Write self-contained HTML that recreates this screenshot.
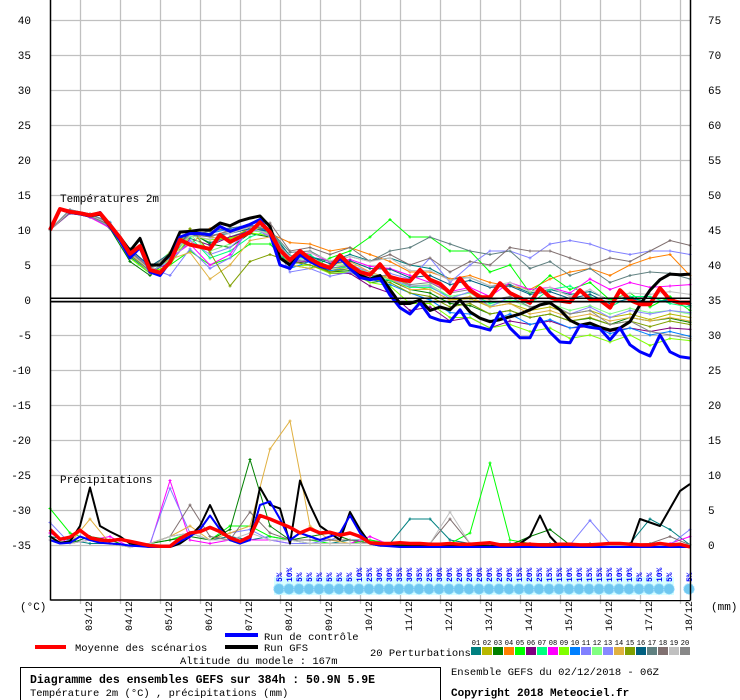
<!DOCTYPE html>
<html><head><meta charset="utf-8"><style>
body{margin:0;background:#fff;width:740px;height:700px;overflow:hidden}
svg{display:block}
text{font-family:"Liberation Mono","DejaVu Sans Mono",monospace}
</style></head><body>
<svg id="chart" width="740" height="700" viewBox="0 0 740 700" xmlns="http://www.w3.org/2000/svg">
<g id="grid"></g>
<g id="snow"></g>
<g id="series"></g>
<g id="axes"></g>
<text x="60" y="202" font-size="11">Températures 2m</text>
<text x="60" y="483" font-size="11">Précipitations</text>
<text x="20" y="610" font-size="11">(°C)</text>
<text x="711" y="610" font-size="11">(mm)</text>
<g>
<rect x="35" y="645" width="31" height="4" fill="#ff0000"/>
<text x="75" y="651" font-size="10.5">Moyenne des scénarios</text>
<rect x="225" y="633" width="33" height="4" fill="#0000ff"/>
<text x="264" y="640" font-size="10.5">Run de contrôle</text>
<rect x="225" y="645" width="33" height="4" fill="#000"/>
<text x="264" y="651" font-size="10.5">Run GFS</text>
<text x="180" y="664" font-size="10.5">Altitude du modele : 167m</text>
<text x="370" y="656" font-size="10.5">20 Perturbations</text>
<g id="pertLegend"></g>
</g>
<rect x="20.5" y="667.5" width="420" height="34" fill="none" stroke="#000"/>
<text x="30" y="683" font-size="11.5" font-weight="bold">Diagramme des ensembles GEFS sur 384h : 50.9N 5.9E</text>
<text x="30" y="696" font-size="10.5">Température 2m (°C) , précipitations (mm)</text>
<text x="451" y="675" font-size="10.5">Ensemble GEFS du 02/12/2018 - 06Z</text>
<text x="451" y="696" font-size="11" font-weight="bold">Copyright 2018 Meteociel.fr</text>
</svg>
<script>
const tempTicks=[40,35,30,25,20,15,10,5,0,-5,-10,-15,-20,-25,-30,-35];
const precipTicks=[75,70,65,60,55,50,45,40,35,30,25,20,15,10,5,0];
const dateLabels=["03/12","04/12","05/12","06/12","07/12","08/12","09/12","10/12","11/12","12/12","13/12","14/12","15/12","16/12","17/12","18/12"];
const meanT=[10,13,12.6,12.4,12.1,12.4,10.7,8.9,6.6,7.7,4.3,3.9,5.4,8.6,7.9,7.6,7.3,9.3,8.3,9,9.7,11.1,9.7,7.1,5.7,7,5.9,5.1,4.6,6.4,5,4,3.6,5.1,3.3,2.9,2.7,4.3,2.9,2.3,1,3.1,1.4,0.4,0.4,2.4,1,0.3,-0.4,1.7,0.4,-0.1,-0.3,1.4,0.1,0,-1.1,1.4,0,-0.6,-0.6,1.7,0,-0.4,-0.4];
const controlT=[10,13,12.5,12.3,12,12.5,10.5,8.5,6,7.5,4,3.5,5.5,9,9.5,9.5,9.3,10.5,9.8,10.3,10.8,11.5,9.5,5,4.5,6.5,5.5,4.8,4.5,6,4.5,3.2,2.9,3.1,0.7,-1.1,-2,-0.4,-2.4,-2.9,-3.1,-1.4,-3.6,-3.9,-4.3,-1.7,-4,-5.4,-5.4,-2.6,-4.6,-6,-6.1,-3.6,-3.9,-4.1,-5.7,-4,-6.4,-7.4,-8,-5,-7.4,-8.1,-8.3];
const gfsT=[10,13,12.5,12.3,12,12.3,10.5,9,7,8.8,5,5,6.5,9.7,9.8,10,10,11,10.6,11.3,11.7,12,10.5,6,5,6.5,6,5,4.5,6,4.8,3.5,3,3.5,1.5,-0.5,-0.5,0,-1.5,-1,-1.4,0,-1.7,-2.6,-3.1,-2.8,-2.4,-2,-1.4,-0.7,-0.4,-1.4,-2.9,-3.6,-3.3,-3.9,-4.3,-4,-3.1,-0.7,1.4,2.9,3.7,3.6,3.7];
const meanP=[2.5,1.1,1.4,2.4,1.3,1,0.9,1.1,0.8,0.5,0.2,0.1,0.1,1.2,2,2.2,2.8,2.2,1.3,0.8,1.5,4.5,4,3.4,2.8,2,2.6,2,2.1,1.7,2,1.5,0.6,0.5,0.5,0.6,0.5,0.5,0.4,0.4,0.5,0.4,0.4,0.5,0.6,0.3,0.3,0.4,0.4,0.3,0.3,0.4,0.4,0.3,0.3,0.4,0.5,0.5,0.4,0.3,0.3,0.5,0.3,0.4,0];
const gfsP=[1.5,0.6,0.8,3,8.5,3,2.2,1.5,0.5,0.2,0,0,0,0.5,1.5,3,6,3,1,0.5,1.5,8.5,6,5.5,0.5,9.5,6,3,2,1,5,2.5,0.5,0.2,0.2,0.1,0.1,0.1,0.1,0.1,0.1,0.1,0.1,0.1,0.1,0.2,0.2,0.5,1.5,4.5,1.5,0,0,0,0,0,0,0,0,4,3.5,3,5.5,8,9];
const ctrlP=[1,0.5,0.6,1.5,1,0.6,0.5,0.4,0.2,0.1,0,0,0,0.8,1.5,2.5,4.5,2.5,1,0.5,1,6,6.5,4,1,2,1.5,1,1.5,2,4.5,2,0.5,0.2,0.1,0,0,0,0,0,0,0,0,0,0,0,0,0,0,0,0,0,0,0,0,0,0,0,0,0,0,0,0,0,0];
const pertColors=["#008080","#b8b800","#008000","#ff8000","#00ff00","#800080","#00ff80","#ff00ff","#80ff00","#0080ff","#8080ff","#80ff80","#8888ff","#e0b040","#80a000","#006080","#608080","#807070","#c0c0c0","#888888"];
const p01=[10,12.9,12,10.4,6.2,4,5.8,9.5,8.2,9,10,10.2,6,6.2,5.5,6.5,5.6,6,5,4.5,3,3.2,2,2.2,1,1.5,0.8,1.2,0,0.5,-0.5,0.2,-0.8];
const p02=[10,12.5,12,11,7,4.2,6.8,10,9,8.7,10.3,10,5.5,5,4.2,4.8,3,3.5,2,1.5,0,0.2,-1,-0.5,-1.5,-1,-2,-1.5,-2.5,-2,-2.8,-2,-2.5];
const p03=[10,12.7,12.2,10.2,5.5,3.5,6,9.8,8,7.5,9.5,9,5.2,5.5,4,4.2,2.5,2.8,1.5,1,-0.5,-0.8,-2,-1.5,-2.5,-2,-3,-2.6,-3.5,-2.5,-3,-2.6,-3.2];
const p04=[10,12.8,12.3,11,7.3,4.8,6.5,8,10.2,10,10,9.5,8.2,8,7,7.5,6.5,5.5,4,4,3,3.5,2.5,2,1.5,3,4,4.5,3.5,5,6,6.5,3.5];
const p05=[10,12.6,11.8,10.5,6,3.8,5,7,5,6,8,8,5,4.5,6,7,9,11.5,9,9,7,7,4,5,1,3.5,1.5,2.5,0,1,-1,0.5,-1.5];
const p06=[10,12.4,12,10.8,6.8,4.2,5.2,8.8,7.8,9,9.8,10.1,5.4,5.5,3.8,3.8,2,1,-1.5,-1,-3,-2.5,-4,-3,-3.5,-3,-4,-3.8,-4.5,-4,-4.5,-4,-4.2];
const p07=[10,12.7,12.2,10.9,6.5,4.5,6.8,9,6,7,9,10,6.3,6.5,4.5,4.8,3.5,2.8,1.8,1.8,0.5,1,-0.5,0,-0.5,1.5,2,0.5,-1,0.5,0.5,-0.5,-1];
const p08=[10,12.6,11.8,10.3,6.8,3.8,6,8,5,6.5,10.5,9.2,5.5,6.8,5.4,5.8,4.8,4.5,3.5,2.5,1.2,1.8,0.5,2.5,1.5,1.8,1,3,1.5,2.5,1.8,2,2.2];
const p09=[10,12.8,12,10.6,6,3.9,5,9.2,8.6,8.8,9.6,9.2,4.8,5,3.8,4,2.5,2,-0.5,-0.5,-2.5,-2.5,-4,-3.5,-4.5,-4,-5.5,-5,-6,-5,-6.5,-5.5,-5.8];
const p10=[10,12.9,12.3,11.1,7,4.4,6,9.6,9.5,10.2,10.8,9.7,4.5,5.5,4.2,4.5,3,2.2,1,0,-1.8,-2,-3,-2,-3.5,-2.8,-4,-3.5,-4.8,-4,-5,-4.5,-5.2];
const p11=[10,12.5,11.9,10.8,7.2,4.6,3.5,7.3,4.5,6,10.5,9,4,4.5,3.4,4,2.8,3.8,3,6,2.5,5,7,7,6,8,8.5,8,7,6.5,7,7,6.5];
const p12=[10,12.6,12.1,10.6,6.6,4,5.7,9.3,7,8,9.9,9.6,5.8,6,4.8,5.2,3.7,3,2,2.2,0.5,1,-0.8,0,-1,-0.5,-1.5,-0.8,-2,-1.2,-1.8,-1.5,-2];
const p13=[10,12.7,12,10.5,6.5,4,5.5,8.5,6.5,7.5,10,9.8,6,5.5,4.5,5,4,3,2,2,0.2,1.2,-1,0.5,-1,-0.5,-2,-1,-2.5,-1.5,-2,-1.5,-1.8];
const p14=[10,12.8,12.1,10.6,6.5,4.6,5.8,6.8,3,5,8.5,9,5,4.5,5,5.5,4,3,1.5,1.5,0,0.5,-1,-0.5,-2,-1.5,-2.5,-2,-3,-2.5,-3,-2.5,-3];
const p15=[10,12.6,12.1,10.7,6.4,4.2,6.8,10.2,6.8,2,5.5,6.5,5.5,5,4,4.5,3,2.5,1,0.5,-1,-0.5,-2,-1.5,-2.5,-2,-3,-2.5,-3.5,-3,-3.8,-3,-3.5];
const p16=[10,12.8,12.2,10.8,7.3,4.8,6.6,9.7,9.2,9.5,10.2,9.8,6.3,6.2,5.2,5.6,4.5,4.4,3.2,3.5,2.2,2.8,1.8,2,0.8,1.2,0.2,0.8,-0.5,0.2,-0.3,0,-0.5];
const p17=[10,12.7,12,10.7,7,4.5,6.6,9.3,9.8,10.3,10.6,10,6.8,7,5.5,6.2,5.5,7,7.5,9,8,7,6.5,7,4.5,5.5,3.5,4.5,2.5,3.5,4,3.8,3];
const p18=[10,12.6,12,10.8,6.9,4.4,6.2,9.4,9,10,10.5,11,7,7.5,6.5,7.5,5.5,6.5,5,6,4,5.5,5,7.5,7,7,6,5,6,5.5,7,8.5,7.8];
const p19=[10,12.7,12.1,10.9,6.7,4.3,6.4,9.2,8.7,9.5,10.4,9.3,6.2,6.8,5.6,6.2,5.5,6,4.2,4.2,2.8,3.2,2,2.5,1.2,1.8,0.5,1.5,-0.2,1,0.8,1.2,0.8];
const p20=[10,12.9,12.3,11,6.8,4.6,6.5,9.5,9.2,9.8,10.5,10.4,5.5,5.8,4.5,5,3.5,3.5,2.2,2.5,1,1.5,0,0.5,-1,-0.5,-2,-1.5,-3.5,-3,-4.5,-5,-5.5];
const pertT=[p01,p02,p03,p04,p05,p06,p07,p08,p09,p10,p11,p12,p13,p14,p15,p16,p17,p18,p19,p20];
const pp01=[1.5,1,0.5,0.5,0,0.5,1.5,2,1,1.5,1,1.5,1,0.5,0.5,1,1,0.5,4,4,1,0.5,0.5,0.5,0.5,0.5,0.3,0.3,0.3,0.5,4,2.5,0.3];
const pp05=[5.5,2,1,0.5,0,0.5,1,2,1,3,3,1.5,1,1,0.5,0.5,1,0.5,0.5,0.5,0.5,2,12,1,0.5,0.3,0.3,0.3,0.5,0.3,0.3,0.3,0.3];
const pp08=[2,0.5,1,1.5,0,0.3,9.5,1,0.5,1,1,1,0.5,0.5,0.5,0.5,1.5,0.3,0.3,0.3,0.3,0.3,0.3,0.3,0.3,0.3,0.3,0.3,0.5,0.3,0.3,0.5,1.5];
const pp11=[3.5,0.5,1,0.5,0,0.5,8.4,2,1,2,2.5,1,0.5,0.5,1,2,0.5,0.3,0.3,0.3,0.3,0.5,0.3,0.3,0.5,0.3,0.3,3.8,0.5,0.3,0.5,0.3,2.5];
const pp14=[1,0.5,4,0.5,0,0.5,1.5,3,1,2,3,14,18,3,1,0.5,0.5,0.3,0.3,0.3,0.3,0.3,0.3,0.3,0.3,0.3,0.3,0.3,0.3,0.3,0.3,0.3,0.3];
const pp03=[1,0.5,1.5,1,0,0.5,1,1.5,1,2.5,12.5,3,1,1.5,2,1,0.5,0.3,0.3,0.3,0.3,0.3,0.3,0.3,1.5,2.5,0.3,0.3,0.3,0.3,0.3,0.3,0.3];
const pp18=[1,0.5,1,0.5,0,0.5,1.5,6,1.5,1,5,2,1,1,1,1,0.5,0.5,0.5,0.5,4,0.5,0.3,0.3,0.5,0.3,0.3,0.5,0.3,0.3,0.5,1.5,0.3];
const pp19=[1,0.5,1,0.5,0,0.5,1.5,2,1,1,2,1,1,0.5,0.5,0.5,0.5,0.5,0.5,0.5,5,0.5,0.5,0.3,0.3,0.3,0.3,0.3,0.3,0.3,0.3,0.3,0.3];
const pertP=[pp01,pp05,pp08,pp11,pp14,pp03,pp18,pp19];
const pertPIdx=[0,4,7,10,13,2,17,18];
const snowPct=[5,10,5,5,5,5,5,5,10,25,30,30,35,30,35,25,30,20,20,20,20,20,20,20,15,20,25,15,15,10,10,15,15,15,10,10,5,5,10,5,null,5];

const NS="http://www.w3.org/2000/svg";
const X0=50,X1=690;
const xAt6h=i=>X0+i*10;
const xAt12h=i=>X0+i*20;
const yT=t=>300-t*7;
const yP=p=>547-p*7;
function mk(tag,attrs,parent){const e=document.createElementNS(NS,tag);for(const k in attrs)e.setAttribute(k,attrs[k]);parent.appendChild(e);return e;}
const grid=document.getElementById('grid'),axes=document.getElementById('axes'),ser=document.getElementById('series'),snow=document.getElementById('snow');

tempTicks.forEach((t,i)=>{
  const y=yT(t);
  const l=mk('line',{x1:X0,x2:X1,y1:y+0.5,y2:y+0.5,stroke:'#c0c0c0','stroke-width':1.3},grid);
  
  
  const tl=mk('text',{x:31,y:y+4,'font-size':11,'text-anchor':'end'},axes);
  tl.textContent=t;
  
  
  const tr=mk('text',{x:708,y:y+4,'font-size':11},axes);
  tr.textContent=precipTicks[i];
  
  
});
dateLabels.forEach((d,i)=>{
  const x=80+i*40;
  const l=mk('line',{x1:x+0.5,x2:x+0.5,y1:0,y2:604,stroke:'#c0c0c0','stroke-width':1.3},grid);
  
  
  const t=mk('text',{x:0,y:0,'font-size':10,transform:`translate(${x+12},631) rotate(-90)`},axes);
  t.textContent=d;
  
  
});
[[X0,0,X0,600],[X1,0,X1,600],[X0,600,X1,600]].forEach(c=>{
  const l=mk('line',{x1:c[0]+0.5,y1:c[1],x2:c[2]+0.5,y2:c[3]+0.5,stroke:'#000','stroke-width':1.5},axes);
  
  
});
[298.3,301.7].forEach(y=>{
  const l=mk('line',{x1:X0,x2:X1,y1:y,y2:y,stroke:'#000','stroke-width':1.5},axes);
  
  
});

const band=mk('rect',{x:274,y:577,width:400,height:18,fill:'#d8ffff'},snow);


snowPct.forEach((p,i)=>{
  if(p===null)return;
  const x=279+i*10;
  const c=mk('circle',{cx:x,cy:589,r:5.3,fill:'#70c8f0',stroke:'#a0e0ff','stroke-width':1,'stroke-dasharray':'1.5 1'},snow);
  
  
  const t=mk('text',{x:0,y:0,'font-size':8,fill:'#0000ff','font-weight':'bold',transform:`translate(${x+3},${582}) rotate(-90)`},snow);
  t.textContent=p+'%';
  
  
});

function path(vals,xf,yf){return vals.map((v,i)=>(i?'L':'M')+xf(i).toFixed(1)+' '+yf(v).toFixed(1)).join(' ');}
function marks(vals,xf,yf,col,g){vals.forEach((v,i)=>{const x=xf(i),y=yf(v);
  const m=mk('path',{d:`M${x-1.5} ${y}H${x+1.5}M${x} ${y-1.5}V${y+1.5}`,stroke:col,'stroke-width':1},g);
  
  });}

pertT.forEach((vals,k)=>{
  const g=mk('g',{},ser);
  
  
  const p=mk('path',{d:path(vals,xAt12h,yT),fill:'none',stroke:pertColors[k],'stroke-width':1},g);
  
  
  marks(vals,xAt12h,yT,pertColors[k],g);
});
pertP.forEach((vals,k)=>{
  const col=pertColors[pertPIdx[k]];
  const g=mk('g',{},ser);
  
  
  const p=mk('path',{d:path(vals,xAt12h,yP),fill:'none',stroke:col,'stroke-width':1},g);
  
  
  marks(vals,xAt12h,yP,col,g);
});
function bigLine(vals,yf,col,w,name){
  const p=mk('path',{d:path(vals,xAt6h,yf),fill:'none',stroke:col,'stroke-width':w,'stroke-linejoin':'round'},ser);
  
  
}
bigLine(gfsP,yP,'#000',2,'gfs-precip-line');
bigLine(ctrlP,yP,'#0000ff',2,'control-precip-line');
bigLine(meanP,yP,'#ff0000',3.5,'mean-precip-line');
bigLine(gfsT,yT,'#000',3,'gfs-temp-line');
bigLine(controlT,yT,'#0000ff',3,'control-temp-line');
bigLine(meanT,yT,'#ff0000',4,'mean-temp-line');

const pl=document.getElementById('pertLegend');
pertColors.forEach((c,i)=>{
  const x=471+i*11;
  const r=mk('rect',{x:x,y:647,width:10,height:8,fill:c},pl);
  
  
  const t=mk('text',{x:x+5,y:645,'font-size':7,'text-anchor':'middle'},pl);
  t.textContent=String(i+1).padStart(2,'0');
  
  
});
</script>
</body></html>
